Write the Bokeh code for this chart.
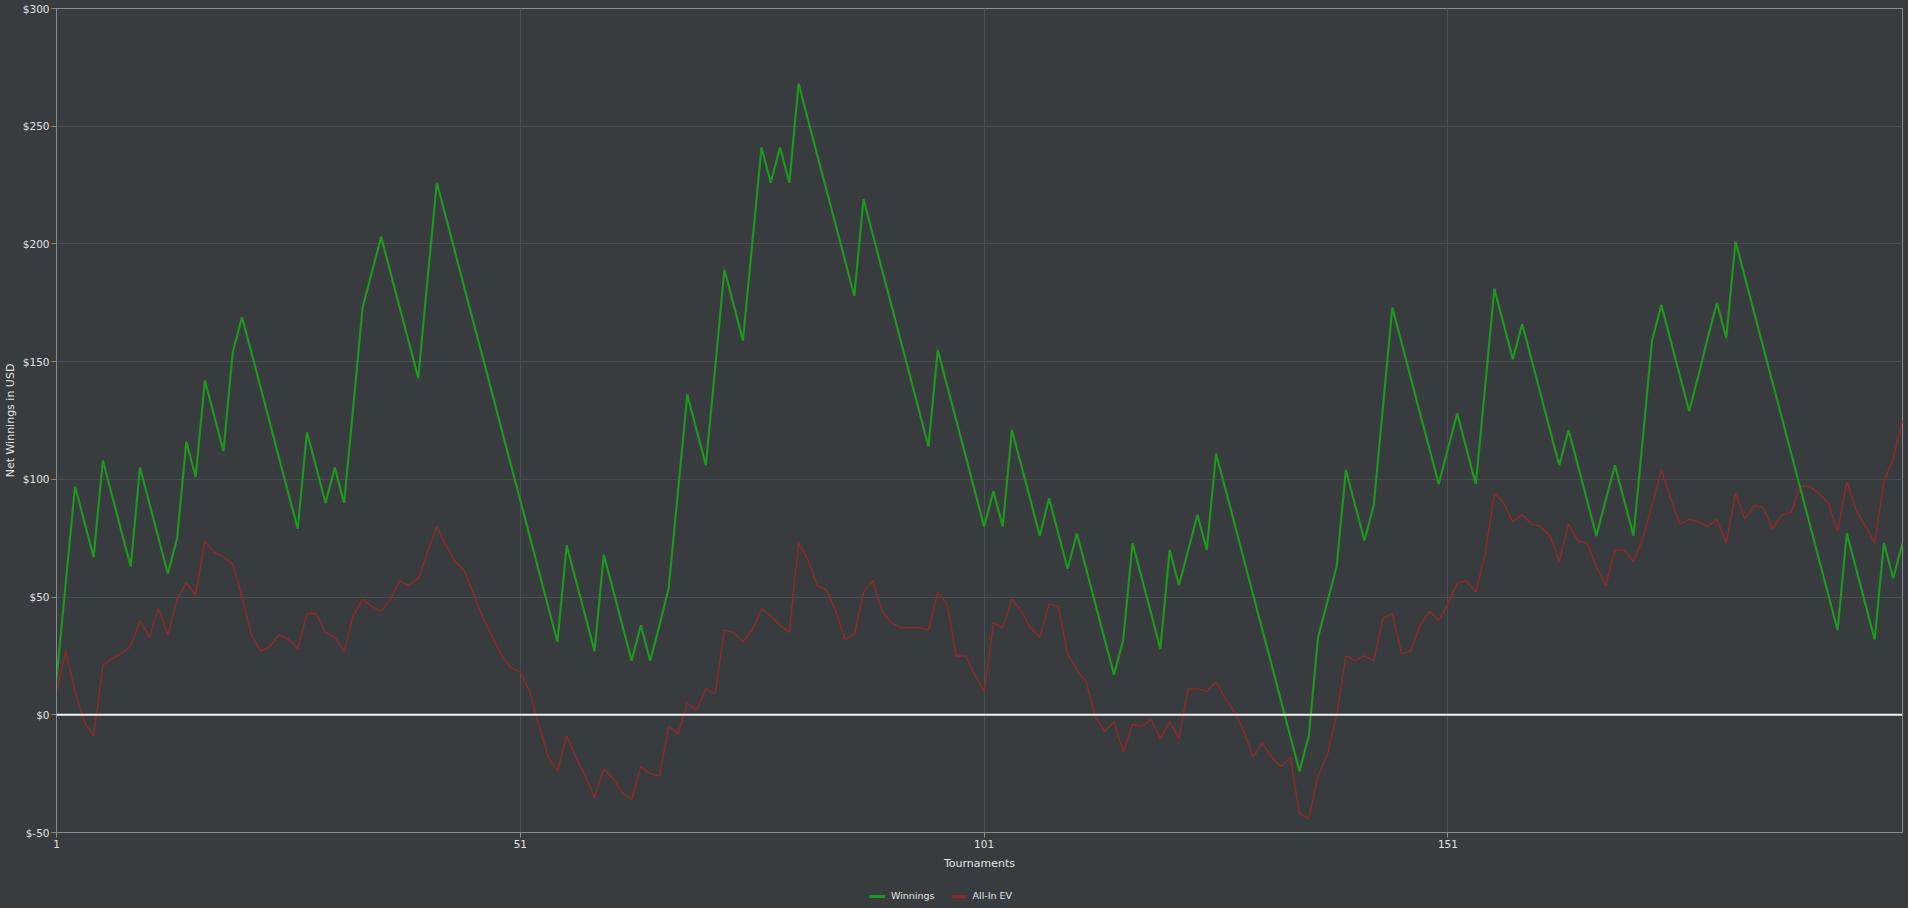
from bokeh.plotting import figure
from bokeh.layouts import column
from bokeh.models import Range1d, Span, Legend, LegendItem, FixedTicker, PrintfTickFormatter
from bokeh.embed import file_html
from bokeh.resources import INLINE

tournaments = list(range(1, 201))

winnings = [
    15, 56, 97, 82, 67, 108, 93, 78, 63, 105,
    90, 75, 60, 75, 116, 101, 142, 127, 112, 154,
    169, 154, 139, 124, 109, 94, 79, 120, 105, 90,
    105, 90, 131, 173, 188, 203, 188, 173, 158, 143,
    185, 226, 211, 196, 181, 166, 151, 136, 121, 106,
    91, 76, 61, 46, 31, 72, 57, 42, 27, 68,
    53, 38, 23, 38, 23, 38, 54, 95, 136, 121,
    106, 147, 189, 174, 159, 200, 241, 226, 241, 226,
    268, 253, 238, 223, 208, 193, 178, 219, 204, 189,
    174, 159, 144, 129, 114, 155, 140, 125, 110, 95,
    80, 95, 80, 121, 106, 91, 76, 92, 77, 62,
    77, 62, 47, 32, 17, 32, 73, 58, 43, 28,
    70, 55, 70, 85, 70, 111, 96, 81, 66, 51,
    36, 21, 6, -9, -24, -9, 33, 48, 63, 104,
    89, 74, 89, 131, 173, 158, 143, 128, 113, 98,
    113, 128, 113, 98, 139, 181, 166, 151, 166, 151,
    136, 121, 106, 121, 106, 91, 76, 91, 106, 91,
    76, 117, 159, 174, 159, 144, 129, 144, 160, 175,
    160, 201, 186, 171, 156, 141, 126, 111, 96, 81,
    66, 51, 36, 77, 62, 47, 32, 73, 58, 73,
]

allin_ev = [
    10, 27, 10, -3, -9, 21, 24, 26, 29, 40,
    33, 45, 34, 49, 56, 51, 74, 69, 67, 64,
    50, 34, 27, 29, 34, 32, 28, 43, 43, 35,
    33, 27, 42, 49, 46, 44, 49, 57, 55, 58,
    69, 80, 72, 65, 61, 51, 41, 33, 25, 20,
    18, 10, -4, -18, -24, -9, -18, -26, -35, -23,
    -27, -33, -36, -22, -25, -26, -5, -8, 5, 2,
    11, 9, 36, 35, 31, 36, 45, 42, 38, 35,
    73, 66, 55, 53, 44, 32, 34, 52, 57, 44,
    39, 37, 37, 37, 36, 52, 47, 25, 25, 17,
    10, 39, 37, 49, 44, 37, 33, 47, 46, 26,
    19, 14, -1, -7, -3, -16, -4, -5, -2, -10,
    -3, -10, 11, 11, 10, 14, 7, 1, -7, -18,
    -12, -18, -22, -18, -42, -44, -26, -17, 0, 25,
    23, 25, 23, 41, 43, 26, 27, 38, 44, 40,
    47, 56, 57, 52, 68, 94, 90, 82, 85, 81,
    80, 76, 65, 81, 74, 73, 63, 55, 70, 70,
    65, 75, 89, 104, 92, 81, 83, 82, 80, 83,
    73, 94, 83, 89, 88, 79, 85, 86, 97, 97,
    94, 90, 78, 99, 87, 80, 73, 99, 109, 125,
]

x_ticks = [1, 51, 101, 151]
y_ticks = [-50, 0, 50, 100, 150, 200, 250, 300]
series_labels = ["Winnings", "All-In EV"]

BG = "#393c3f"
TXT = "#e2e2e2"
AXIS = "#8a8b8c"
GRID = "#4b4e51"
FONT = "DejaVu Sans"
GREEN = "#1d9a1d"
RED = "#8e2a2a"

p = figure(width=1906, height=872, output_backend="svg", toolbar_location=None,
           x_range=Range1d(1, 200), y_range=Range1d(-50, 300),
           min_border_left=56, min_border_right=4, min_border_top=8, min_border_bottom=40)

p.background_fill_color = BG
p.border_fill_color = BG
p.outline_line_color = AXIS
p.outline_line_width = 1

for ax in (p.xaxis[0], p.yaxis[0]):
    ax.axis_line_color = AXIS
    ax.major_tick_line_color = AXIS
    ax.minor_tick_line_color = None
    ax.major_tick_out = 5
    ax.major_tick_in = 0
    ax.major_label_text_color = TXT
    ax.major_label_text_font = FONT
    ax.major_label_text_font_size = "10.5px"
    ax.axis_label_text_color = TXT
    ax.axis_label_text_font = FONT
    ax.axis_label_text_font_size = "11px"
    ax.axis_label_text_font_style = "normal"

p.xaxis.ticker = FixedTicker(ticks=x_ticks)
p.yaxis.ticker = FixedTicker(ticks=y_ticks)
p.yaxis.formatter = PrintfTickFormatter(format="$%d")
p.xaxis.axis_label = "Tournaments"
p.yaxis.axis_label = "Net Winnings in USD"
p.xaxis.major_label_standoff = 2
p.xaxis.axis_label_standoff = 6
p.yaxis.major_label_standoff = 2
p.yaxis.axis_label_standoff = 3

p.xgrid.grid_line_color = GRID
p.ygrid.grid_line_color = GRID
p.xgrid.grid_line_width = 1
p.ygrid.grid_line_width = 1

zero = Span(location=0, dimension="width", line_color="#f0f0f0", line_width=2)
p.add_layout(zero)

p.line(tournaments, allin_ev, line_color=RED, line_width=1.4)
p.line(tournaments, winnings, line_color=GREEN, line_width=2.1)

# legend strip below the chart (a separate small figure so it is not clipped)
lf = figure(width=1906, height=30, output_backend="svg", toolbar_location=None,
            x_range=Range1d(1000, 1001), y_range=Range1d(1000, 1001),
            x_axis_type=None, y_axis_type=None,
            min_border_left=0, min_border_right=0, min_border_top=0, min_border_bottom=0)
lf.background_fill_color = BG
lf.border_fill_color = BG
lf.outline_line_color = None
lf.xgrid.visible = False
lf.ygrid.visible = False
lw = lf.line(tournaments, winnings, line_color=GREEN, line_width=3)
le = lf.line(tournaments, allin_ev, line_color=RED, line_width=3)

legend = Legend(items=[LegendItem(label=series_labels[0], renderers=[lw]),
                       LegendItem(label=series_labels[1], renderers=[le])],
                orientation="horizontal", location=(813, 1))
legend.background_fill_alpha = 0
legend.border_line_color = None
legend.label_text_color = TXT
legend.label_text_font = FONT
legend.label_text_font_size = "9.5px"
legend.glyph_width = 16
legend.glyph_height = 10
legend.label_standoff = 6
legend.spacing = 16
legend.padding = 3
legend.margin = 0
lf.add_layout(legend, "center")

layout = column(p, lf, spacing=0)

html = file_html(layout, INLINE)
html = html.replace("</head>", "<style>html,body{background:%s;}</style></head>" % BG, 1)
open("out.html", "w").write(html)
